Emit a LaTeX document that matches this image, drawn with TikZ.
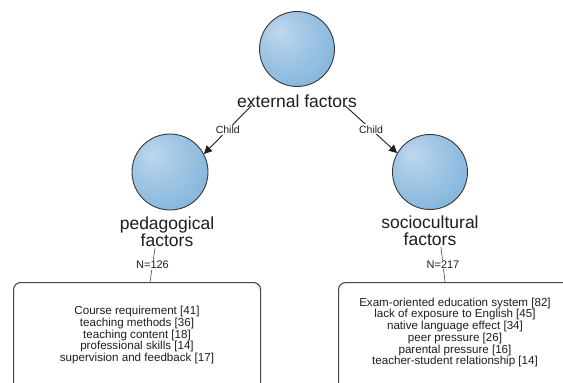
\documentclass[tikz,border=0pt]{standalone}
\usepackage{fontspec}
\setmainfont{Liberation Sans}
\usetikzlibrary{arrows.meta}
\definecolor{sHi}{RGB}{192,216,236}
\definecolor{sMid}{RGB}{132,182,222}
\definecolor{sOut}{RGB}{98,152,202}
\definecolor{txt}{RGB}{30,30,30}
\definecolor{edge}{RGB}{70,70,70}
\pgfdeclareradialshading{sph}{\pgfpoint{-12bp}{12bp}}{color(0bp)=(sHi); color(12bp)=(sHi!60!sMid); color(34bp)=(sMid); color(60bp)=(sOut); color(70bp)=(sOut)}
\tikzset{
  sphere/.style={circle, minimum size=75pt, inner sep=0pt, draw=edge!80!black, line width=0.9pt, shading=sph},
  biglabel/.style={font=\fontsize{17.5}{17}\selectfont, text=txt, align=center, inner sep=0pt},
  smalllabel/.style={font=\fontsize{10.5}{12}\selectfont, text=txt, fill=white, inner sep=1pt},
  nlabel/.style={font=\fontsize{11}{12}\selectfont, text=txt, fill=white, inner sep=1pt},
  arr/.style={draw=txt, line width=0.9pt, -{Triangle[width=8pt,length=8pt]}},
  conn/.style={draw=edge, line width=0.6pt},
  boxframe/.style={draw=edge, line width=1.1pt, rounded corners=7pt, anchor=north west, inner sep=0pt},
  boxtext/.style={font=\fontsize{11.6}{11.7}\selectfont, text=txt, align=center, inner sep=0pt}
}
\begin{document}
\begin{tikzpicture}[x=1pt,y=-1pt]
\useasboundingbox (0,0) rectangle (563,383);
\clip (0,0) rectangle (563,383);
\fill[white] (0,0) rectangle (563,383);
% spheres
\node[sphere] (ext) at (297,49) {};
\node[sphere, minimum size=76pt] (ped) at (170,172) {};
\node[sphere] (soc) at (430,172) {};
% labels
\node[biglabel] (extl) at (297,101) {external factors};
\node[biglabel] (pedl) at (167,232) {pedagogical\\factors};
\node[biglabel] (socl) at (430,231) {sociocultural\\factors};
% boxes
\node[boxframe, minimum width=247pt, minimum height=130pt] (lbox) at (13,282) {};
\node[boxframe, minimum width=260pt, minimum height=130pt] (rbox) at (338,282) {};
\node[boxtext] (ltext) at (137,335) {Course requirement [41]\\teaching methods [36]\\teaching content [18]\\professional skills [14]\\supervision and feedback [17]};
\node[boxtext] (rtext) at (455,332.5) {Exam-oriented education system [82]\\lack of exposure to English [45]\\native language effect [34]\\peer pressure [26]\\parental pressure [16]\\teacher-student relationship [14]};
% child arrows
\draw[arr] ([xshift=14.5pt,yshift=2pt]extl.south west) -- node[smalllabel]{Child} (ped.28);
\draw[arr] ([xshift=-12pt,yshift=2pt]extl.south east) -- node[smalllabel]{Child} (soc.150);
% N connectors
\draw[conn] ([xshift=-12pt,yshift=-1pt]pedl.south) -- node[nlabel]{N=126} ([xshift=137pt]lbox.north west);
\draw[conn] ([xshift=11pt,yshift=-1pt]socl.south) -- node[nlabel]{N=217} ([xshift=107pt]rbox.north west);
\end{tikzpicture}
\end{document}
